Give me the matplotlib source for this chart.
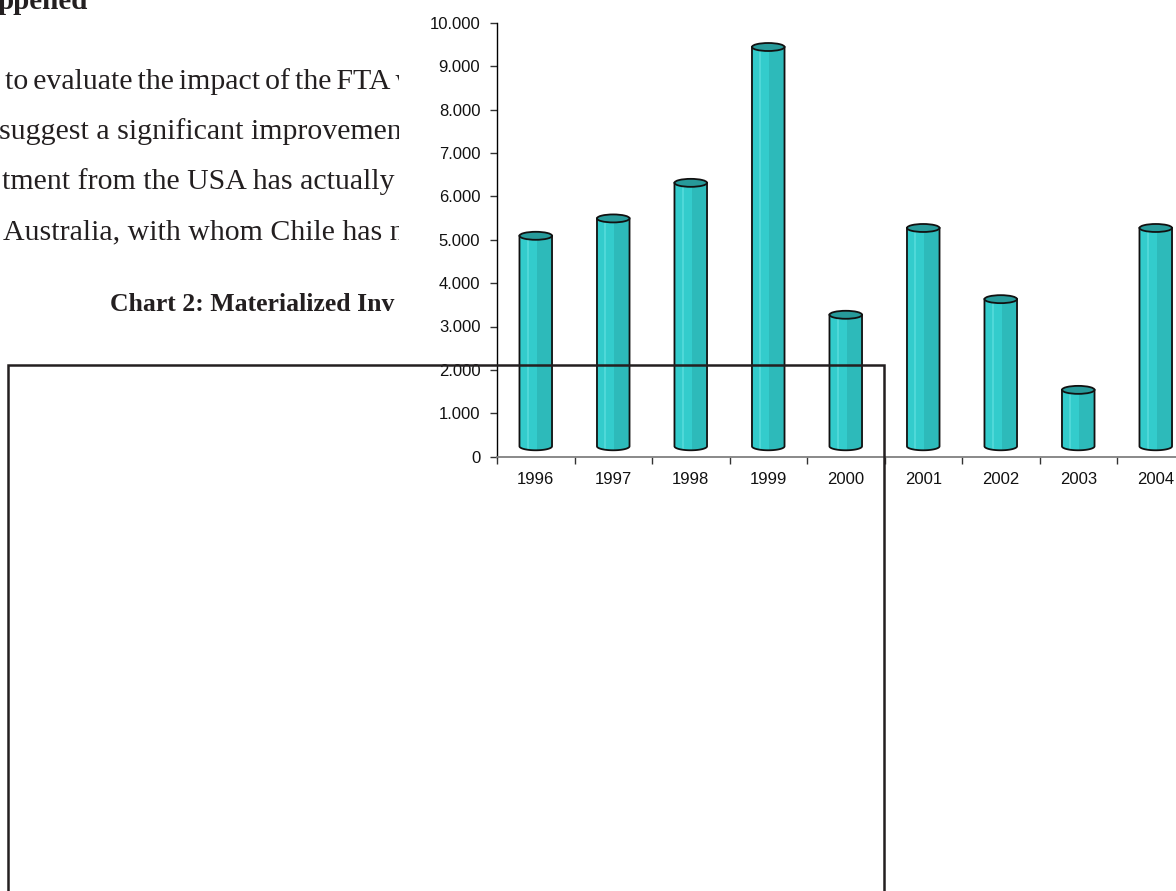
import numpy as np
import matplotlib
matplotlib.use("Agg")
import matplotlib.pyplot as plt
from matplotlib.patches import Polygon, Ellipse, Rectangle
from matplotlib.lines import Line2D


# ======================================
# DATA
# ======================================

years = ["1996", "1997", "1998", "1999", "2000", "2001", "2002", "2003", "2004"]
investment = [4850, 5250, 6070, 9200, 3030, 5030, 3390, 1300, 5030]

y_ticks = list(range(0, 10001, 1000))

heading = "ppened"
body_lines = [
    "to\u2006evaluate\u2006the\u2006impact\u2006of\u2006the\u2006FTA\u2006w",
    "suggest a significant improvemen",
    "tment from the USA has actually",
    "Australia, with whom Chile has n",
]
chart_title = "Chart 2: Materialized Inv"


# ======================================
# FIGURE
# ======================================

W, H = 1176, 891
fig = plt.figure(figsize=(W / 100, H / 100), dpi=100)
fig.patch.set_facecolor("white")

serif = ["Liberation Serif", "DejaVu Serif"]
sans = ["Liberation Sans", "DejaVu Sans"]


# background page (pixel coords)

page = fig.add_axes([0, 0, 1, 1], zorder=-1)
page.set_xlim(0, W)
page.set_ylim(H, 0)
page.axis("off")

page.text(-2, 9, heading, family=serif, fontsize=21, fontweight="bold",
          color="#231f20", va="baseline", ha="left")

line_x = [5, -1, 2, 3]
for i, line in enumerate(body_lines):
    page.text(line_x[i], 89 + i * 50, line, family=serif, fontsize=21.5,
              color="#231f20", va="baseline", ha="left")

page.text(110, 311, chart_title, family=serif, fontsize=18.5,
          fontweight="bold", color="#231f20", va="baseline", ha="left")

# chart area hides the right part of the text
page.add_patch(Rectangle((399, 0), W - 399, H, facecolor="white",
                         edgecolor="none", zorder=5))


# ======================================
# CHART
# ======================================

left_px, right_px = 497, 497 + 9 * 77.5
top_px, bottom_px = 22.7, 456.7

ax = fig.add_axes([left_px / W, 1 - bottom_px / H,
                   (right_px - left_px) / W, (bottom_px - top_px) / H])
ax.set_facecolor("none")
ax.set_xlim(0, len(years))
ax.set_ylim(0, 10000)

half_w = 0.21
cap_h = 92
floor = 240

body_col = "#33cccc"
shade_col = "#2dbaba"
light_col = "#4fd8d8"
top_col = "#279a9a"

theta = np.linspace(np.pi, 2 * np.pi, 40)

for i, val in enumerate(investment):
    c = i + 0.5
    y_b = floor
    y_t = val + floor

    arc_x = c + half_w * np.cos(theta)
    arc_y = y_b + cap_h * np.sin(theta)
    pts = np.column_stack([
        np.concatenate([[c - half_w], arc_x, [c + half_w]]),
        np.concatenate([[y_t], arc_y, [y_t]]),
    ])

    body = Polygon(pts, closed=True, facecolor=body_col, edgecolor="none",
                   zorder=2)
    ax.add_patch(body)

    shade = Rectangle((c + half_w * 0.05, y_b - cap_h), half_w,
                      y_t - y_b + cap_h, facecolor=shade_col,
                      edgecolor="none", zorder=2.1)
    ax.add_patch(shade)
    shade.set_clip_path(body)

    light = Rectangle((c - half_w * 0.55, y_b - cap_h), half_w * 0.12,
                      y_t - y_b + cap_h, facecolor=light_col,
                      edgecolor="none", zorder=2.1)
    ax.add_patch(light)
    light.set_clip_path(body)

    ax.add_patch(Polygon(pts, closed=True, fill=False, edgecolor="#111111",
                         linewidth=1.3, zorder=2.2))

    ax.add_patch(Ellipse((c, y_t), 2 * half_w, 2 * cap_h,
                         facecolor=top_col, edgecolor="#111111",
                         linewidth=1.3, zorder=2.3))


# axes styling

for side in ["top", "right"]:
    ax.spines[side].set_visible(False)
ax.spines["left"].set_color("#000000")
ax.spines["left"].set_linewidth(1.0)
ax.spines["bottom"].set_color("#808080")
ax.spines["bottom"].set_linewidth(1.3)

ax.set_yticks(y_ticks)
ax.set_yticklabels([f"{v:,}".replace(",", ".") for v in y_ticks])
ax.tick_params(axis="y", length=5, width=1, color="#333333", pad=7,
               labelsize=12, labelcolor="#111111")

ax.set_xticks(range(len(years) + 1))
ax.set_xticklabels([])
ax.tick_params(axis="x", which="major", length=5, width=1, color="#333333")
ax.set_xticks([i + 0.5 for i in range(len(years))], minor=True)
ax.set_xticklabels(years, minor=True)
ax.tick_params(axis="x", which="minor", length=0, pad=11,
               labelsize=12, labelcolor="#111111")

for lab in ax.get_xticklabels(minor=True) + ax.get_yticklabels():
    lab.set_family(sans)


# ======================================
# FRAME OVER THE PAGE
# ======================================

frame_x = [8 / W, 8 / W, 884 / W, 884 / W]
frame_y = [0.0, 1 - 365 / H, 1 - 365 / H, 0.0]
fig.add_artist(Line2D(frame_x, frame_y, transform=fig.transFigure,
                      color="#231f20", linewidth=1.8, zorder=10,
                      solid_joinstyle="miter"))

plt.savefig("out.png", dpi=100)
